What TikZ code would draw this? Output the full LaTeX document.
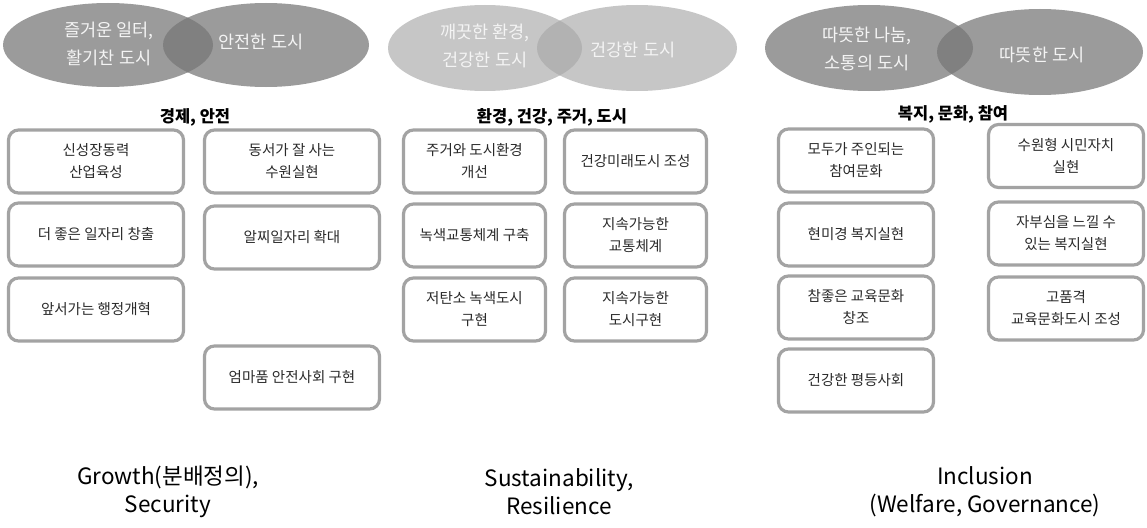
\documentclass[tikz,border=0pt]{standalone}
\usepackage{fontspec}
\setmainfont{Noto Sans CJK KR}
\usetikzlibrary{shapes.geometric}
\definecolor{ellA}{HTML}{9B9B9B}
\definecolor{ellAo}{HTML}{808080}
\definecolor{ellB}{HTML}{C6C6C6}
\definecolor{ellBo}{HTML}{B2B2B2}
\definecolor{boxline}{HTML}{A3A3A3}
\definecolor{boxtext}{HTML}{2A2A2A}
\definecolor{elltext}{HTML}{F4F4F4}
\tikzset{
  card/.style={draw=boxline, line width=3.2pt, rounded corners=10pt, fill=white,
    minimum height=63pt, inner sep=2pt, align=center, text=boxtext,
    font=\fontsize{14.5}{22}\selectfont},
  cardA/.style={card, minimum width=175pt},
  cardB/.style={card, minimum width=142pt},
  cardC/.style={card, minimum width=155pt},
  elabel/.style={text=elltext, align=center, font=\fontsize{17.5}{28}\selectfont},
  header/.style={font=\fontsize{16.5}{20}\selectfont\bfseries, text=black},
  footer/.style={align=center, text=black, font=\fontsize{22.5}{28}\selectfont}
}
\begin{document}
\begin{tikzpicture}[x=1pt,y=-1pt]
\useasboundingbox[fill=white] (0,0) rectangle (1147,527);
% ---- ellipses group 1
\fill[ellA] (108,45) ellipse [x radius=105, y radius=42];
\fill[ellA] (266,45) ellipse [x radius=103, y radius=42];
\begin{scope}
\clip (108,45) ellipse [x radius=105, y radius=42];
\fill[ellAo] (266,45) ellipse [x radius=103, y radius=42];
\end{scope}
% ---- group 2
\fill[ellB] (485,48) ellipse [x radius=97, y radius=43];
\fill[ellB] (637,48) ellipse [x radius=100, y radius=43];
\begin{scope}
\clip (485,48) ellipse [x radius=97, y radius=43];
\fill[ellBo] (637,48) ellipse [x radius=100, y radius=43];
\end{scope}
% ---- group 3
\fill[ellA] (869,48) ellipse [x radius=104, y radius=43];
\fill[ellA] (1040,52) ellipse [x radius=103, y radius=43];
\begin{scope}
\clip (869,48) ellipse [x radius=104, y radius=43];
\fill[ellAo] (1040,52) ellipse [x radius=103, y radius=43];
\end{scope}
% ellipse labels
\node[elabel] (e1a) at (109,44) {즐거운 일터,\\활기찬 도시};
\node[elabel] (e1b) at (261,42) {안전한 도시};
\node[elabel] (e2a) at (485,46) {깨끗한 환경,\\건강한 도시};
\node[elabel] (e2b) at (633,50) {건강한 도시};
\node[elabel] (e3a) at (867,49) {따뜻한 나눔,\\소통의 도시};
\node[elabel] (e3b) at (1042,55) {따뜻한 도시};
% headers
\node[header] (h1) at (195,117) {경제, 안전};
\node[header] (h2) at (552,117) {환경, 건강, 주거, 도시};
\node[header] (h3) at (953,114) {복지, 문화, 참여};
% group 1 boxes
\node[cardA] (a1) at (96,161.5) {신성장동력\\산업육성};
\node[cardA] (a2) at (96,234.5) {더 좋은 일자리 창출};
\node[cardA] (a3) at (96,309.5) {앞서가는 행정개혁};
\node[cardA] (a4) at (292,161.5) {동서가 잘 사는\\수원실현};
\node[cardA] (a5) at (292,237.5) {알찌일자리 확대};
\node[cardA] (a6) at (292,377.5) {엄마품 안전사회 구현};
% group 2 boxes
\node[cardB] (b1) at (474.5,161.5) {주거와 도시환경\\개선};
\node[cardB] (b2) at (474.5,235.5) {녹색교통체계 구축};
\node[cardB] (b3) at (474.5,309.5) {저탄소 녹색도시\\구현};
\node[cardB] (b4) at (635.5,161.5) {건강미래도시 조성};
\node[cardB] (b5) at (635.5,235.5) {지속가능한\\교통체계};
\node[cardB] (b6) at (635.5,309.5) {지속가능한\\도시구현};
% group 3 boxes
\node[cardC] (c1) at (856,160.5) {모두가 주인되는\\참여문화};
\node[cardC] (c2) at (856,234.5) {현미경 복지실현};
\node[cardC] (c3) at (856,307.5) {참좋은 교육문화\\창조};
\node[cardC] (c4) at (856,380.5) {건강한 평등사회};
\node[cardC] (c5) at (1066,156) {수원형 시민자치\\실현};
\node[cardC] (c6) at (1066,233.5) {자부심을 느낄 수\\있는 복지실현};
\node[cardC] (c7) at (1066,308.5) {고품격\\교육문화도시 조성};
% footers
\node[footer] (f1) at (168,492) {Growth(분배정의),\\Security};
\node[footer] (f2) at (559,492) {Sustainability,\\Resilience};
\node[footer] (f3) at (985,492) {Inclusion\\(Welfare, Governance)};
\end{tikzpicture}
\end{document}
